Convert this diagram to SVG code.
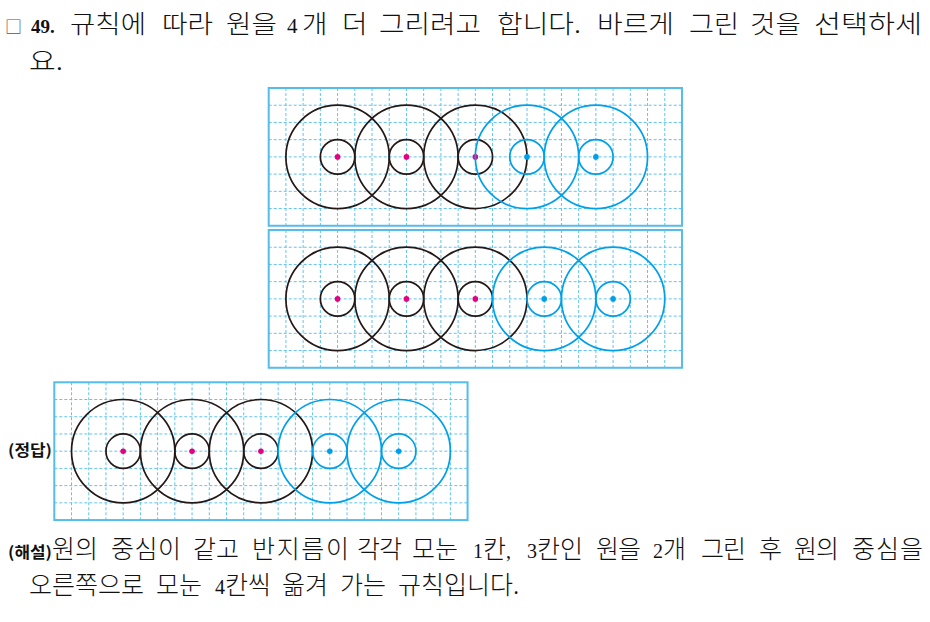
<svg xmlns="http://www.w3.org/2000/svg" xmlns:xlink="http://www.w3.org/1999/xlink" width="930" height="622" viewBox="0 0 930 622">
<style>
text{fill:#111}
.kr{font-family:"Noto Sans CJK KR","Noto Sans",sans-serif;font-size:25px;font-weight:300}
.num{font-family:"Liberation Serif",serif;font-size:20px;font-weight:400}
.numt{font-family:"Liberation Serif",serif;font-size:21px;font-weight:400}
.numb{font-family:"Liberation Serif",serif;font-size:19px;font-weight:700}
.lbl{font-family:"Noto Sans CJK KR",sans-serif;font-size:15.5px;font-weight:700}
.gl{fill:none;stroke:#62c4ef;stroke-width:1;stroke-dasharray:3 2}
.bd{fill:none;stroke:#55bde9;stroke-width:2}
.ck{fill:none;stroke:#231815;stroke-width:1.7}
.cb{fill:none;stroke:#00a0e9;stroke-width:1.7}
.dk{fill:#e4007f}
.db{fill:#00a0e9}
</style>
<defs>
<g id="grid">
<path class="gl" d="M17.22 0V137.76M34.44 0V137.76M51.66 0V137.76M68.88 0V137.76M86.1 0V137.76M103.32 0V137.76M120.54 0V137.76M137.76 0V137.76M154.98 0V137.76M172.2 0V137.76M189.42 0V137.76M206.64 0V137.76M223.86 0V137.76M241.08 0V137.76M258.3 0V137.76M275.52 0V137.76M292.74 0V137.76M309.96 0V137.76M327.18 0V137.76M344.4 0V137.76M361.62 0V137.76M378.84 0V137.76M396.06 0V137.76M0 17.22H413.28M0 34.44H413.28M0 51.66H413.28M0 68.88H413.28M0 86.1H413.28M0 103.32H413.28M0 120.54H413.28"/>
<rect class="bd" x="0" y="0" width="413.28" height="137.76"/>
</g>
<g id="blackset">
<circle class="ck" cx="68.88" cy="68.88" r="51.66"/><circle class="ck" cx="68.88" cy="68.88" r="17.22"/><circle class="dk" cx="68.88" cy="68.88" r="2.8"/>
<circle class="ck" cx="137.76" cy="68.88" r="51.66"/><circle class="ck" cx="137.76" cy="68.88" r="17.22"/><circle class="dk" cx="137.76" cy="68.88" r="2.8"/>
<circle class="ck" cx="206.64" cy="68.88" r="51.66"/><circle class="ck" cx="206.64" cy="68.88" r="17.22"/><circle class="dk" cx="206.64" cy="68.88" r="2.8"/>
</g>
</defs>

<g id="question">
<text x="5" y="33" style="font-family:'Noto Sans CJK KR',sans-serif;font-size:17px;fill:#555">□</text>
<text class="numb" x="31" y="33">49.</text>
<text class="kr" x="70" y="33" textLength="76" lengthAdjust="spacingAndGlyphs">규칙에</text>
<text class="kr" x="162" y="33" textLength="51" lengthAdjust="spacingAndGlyphs">따라</text>
<text class="kr" x="226" y="33" textLength="51" lengthAdjust="spacingAndGlyphs">원을</text>
<text class="numt" x="287" y="33">4</text>
<text class="kr" x="302" y="33" textLength="25.5" lengthAdjust="spacingAndGlyphs">개</text>
<text class="kr" x="342" y="33" textLength="25.5" lengthAdjust="spacingAndGlyphs">더</text>
<text class="kr" x="379" y="33" textLength="102" lengthAdjust="spacingAndGlyphs">그리려고</text>
<text class="kr" x="497" y="33" textLength="84" lengthAdjust="spacingAndGlyphs">합니다.</text>
<text class="kr" x="597" y="33" textLength="77" lengthAdjust="spacingAndGlyphs">바르게</text>
<text class="kr" x="689" y="33" textLength="50" lengthAdjust="spacingAndGlyphs">그린</text>
<text class="kr" x="750" y="33" textLength="51" lengthAdjust="spacingAndGlyphs">것을</text>
<text class="kr" x="814" y="33" textLength="108" lengthAdjust="spacingAndGlyphs">선택하세</text>
<text class="kr" x="29" y="70" textLength="34" lengthAdjust="spacingAndGlyphs">요.</text>
</g>

<g id="option1" transform="translate(268.7 88)">
<use xlink:href="#grid"/>
<use xlink:href="#blackset"/>
<circle class="cb" cx="258.3" cy="68.88" r="51.66"/><circle class="cb" cx="258.3" cy="68.88" r="17.22"/><circle class="db" cx="258.3" cy="68.88" r="2.8"/>
<circle class="cb" cx="327.18" cy="68.88" r="51.66"/><circle class="cb" cx="327.18" cy="68.88" r="17.22"/><circle class="db" cx="327.18" cy="68.88" r="2.8"/>
</g>

<g id="option2" transform="translate(268.7 230)">
<use xlink:href="#grid"/>
<use xlink:href="#blackset"/>
<circle class="cb" cx="275.52" cy="68.88" r="51.66"/><circle class="cb" cx="275.52" cy="68.88" r="17.22"/><circle class="db" cx="275.52" cy="68.88" r="2.8"/>
<circle class="cb" cx="344.4" cy="68.88" r="51.66"/><circle class="cb" cx="344.4" cy="68.88" r="17.22"/><circle class="db" cx="344.4" cy="68.88" r="2.8"/>
</g>

<g id="answer">
<text class="lbl" x="8" y="456" textLength="44" lengthAdjust="spacingAndGlyphs">(정답)</text>
<g transform="translate(54.3 382.3)">
<use xlink:href="#grid"/>
<use xlink:href="#blackset"/>
<circle class="cb" cx="275.52" cy="68.88" r="51.66"/><circle class="cb" cx="275.52" cy="68.88" r="17.22"/><circle class="db" cx="275.52" cy="68.88" r="2.8"/>
<circle class="cb" cx="344.4" cy="68.88" r="51.66"/><circle class="cb" cx="344.4" cy="68.88" r="17.22"/><circle class="db" cx="344.4" cy="68.88" r="2.8"/>
</g>
</g>

<g id="explanation">
<text class="lbl" x="8" y="558" textLength="44" lengthAdjust="spacingAndGlyphs">(해설)</text>
<text class="kr" x="52" y="558" textLength="46" lengthAdjust="spacing">원의</text>
<text class="kr" x="111" y="558" textLength="70" lengthAdjust="spacing">중심이</text>
<text class="kr" x="193" y="558" textLength="46" lengthAdjust="spacing">같고</text>
<text class="kr" x="252" y="558" textLength="97" lengthAdjust="spacing">반지름이</text>
<text class="kr" x="357" y="558" textLength="45" lengthAdjust="spacing">각각</text>
<text class="kr" x="412" y="558" textLength="46" lengthAdjust="spacing">모눈</text>
<text class="kr" y="558"><tspan class="num" x="473">1</tspan><tspan x="483">칸</tspan><tspan class="num">,</tspan></text>
<text class="kr" y="558"><tspan class="num" x="527">3</tspan><tspan x="537">칸인</tspan></text>
<text class="kr" x="596" y="558" textLength="45" lengthAdjust="spacing">원을</text>
<text class="kr" y="558"><tspan class="num" x="653">2</tspan><tspan x="663">개</tspan></text>
<text class="kr" x="701" y="558" textLength="45" lengthAdjust="spacing">그린</text>
<text class="kr" x="759" y="558">후</text>
<text class="kr" x="794" y="558" textLength="45" lengthAdjust="spacing">원의</text>
<text class="kr" x="852" y="558" textLength="71" lengthAdjust="spacing">중심을</text>
<text class="kr" x="29" y="594">오른쪽으로</text>
<text class="kr" x="156" y="594">모눈</text>
<text class="kr" y="594"><tspan class="num" x="215">4</tspan><tspan x="225">칸씩</tspan></text>
<text class="kr" x="282" y="594">옮겨</text>
<text class="kr" x="340" y="594">가는</text>
<text class="kr" x="398" y="594">규칙입니다.</text>
</g>
</svg>
